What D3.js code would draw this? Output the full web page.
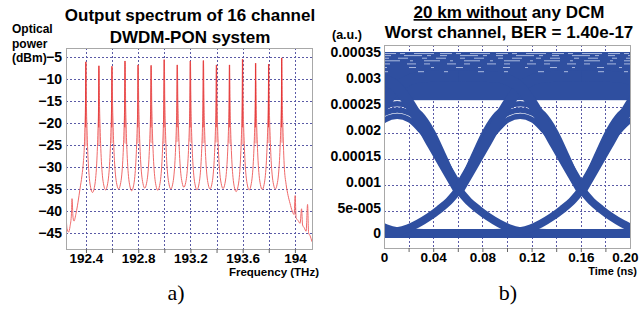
<!DOCTYPE html>
<html>
<head>
<meta charset="utf-8">
<script src="https://cdn.jsdelivr.net/npm/d3@7"></script>
<style>
  body { margin: 0; background: #fff; }
  svg text { font-family: "Liberation Sans", Arial, sans-serif; font-weight: bold; fill: #000; }
</style>
</head>
<body>
<script>
// ---------- (a) spectrum data ----------
const channelTHz = [192.4, 192.5, 192.6, 192.7, 192.8, 192.9, 193.0, 193.1,
                    193.2, 193.3, 193.4, 193.5, 193.6, 193.7, 193.8, 193.9];
const peakDBm = [-6.1, -7.0, -7.1, -5.9, -6.8, -6.9, -5.6, -6.8,
                 -5.9, -5.8, -6.8, -6.8, -5.5, -6.4, -6.6, -5.2];
// valley between channel i and i+1
const valleyDBm = [-35.8, -35.2, -35.0, -35.4, -34.8, -35.3, -35.0, -34.6,
                   -35.2, -35.0, -34.9, -35.6, -35.2, -35.1, -35.0];
// peak side shape: distance from the carrier (THz) and height above the valley (dB)
const profileDist = [0.004, 0.008, 0.012, 0.018, 0.026, 0.036];
const profileRise = [19, 14, 10.5, 6.5, 3.2, 1.1];
const leftTailTHz = [192.247, 192.255, 192.266, 192.278, 192.289, 192.293, 192.301, 192.308,
                     192.324, 192.339, 192.354, 192.369, 192.381, 192.388, 192.392, 192.396];
const leftTailDBm = [-40.5, -44.0, -44.8, -43.5, -40.5, -37.2, -41.5, -42.3,
                     -40.5, -38.0, -35.0, -32.0, -28.5, -25.0, -21.0, -16.0];
const rightTailTHz = [193.904, 193.908, 193.912, 193.918, 193.933, 193.948, 193.963, 193.979, 193.994,
                      194.002, 194.009, 194.025, 194.040, 194.051, 194.059, 194.071, 194.086,
                      194.097, 194.105, 194.116, 194.131];
const rightTailDBm = [-16, -21, -25, -29.5, -34, -36.5, -38.3, -40, -40.8,
                      -36.5, -41.5, -42.2, -42.8, -39.5, -43.2, -43.8, -44.6,
                      -38.5, -45, -45.6, -47];
const freqGrid = [192.4, 192.6, 192.8, 193.0, 193.2, 193.4, 193.6, 193.8, 194.0];
const freqTicks = [192.4, 192.8, 193.2, 193.6, 194.0];
const freqTickLabels = ["192.4", "192.8", "193.2", "193.6", "194"];
const powerTicks = [-5, -10, -15, -20, -25, -30, -35, -40, -45];

// ---------- (b) eye diagram data ----------
const crossingNs = [-0.0393, 0.0607, 0.1607, 0.2607];
// branch above the crossing: time from crossing (ns) -> amplitude
const upperTau = [0, 0.021, 0.042, 0.05, 0.058, 0.07, 0.1];
const upperV   = [0.00009, 0.0001765, 0.000263, 0.000288, 0.0003, 0.000308, 0.00031];
// branch below the crossing
const lowerTau = [0, 0.008, 0.016, 0.024, 0.033, 0.041, 0.05, 0.065, 0.1];
const lowerV   = [0.00009, 0.000068, 0.000052, 0.000038, 0.000025, 0.000016, 0.00001, 0.000007, 0.000006];
// isolated "1" humps, time from hump centre
const humpTau  = [-0.05, -0.038, -0.028, -0.019, -0.01, 0, 0.01, 0.019, 0.028, 0.038, 0.05];
const humpLowV = [0.00009, 0.000145, 0.00018, 0.000205, 0.000225, 0.000232, 0.000225, 0.000205, 0.00018, 0.000145, 0.00009];
const humpMidV = [0.00009, 0.00015, 0.000192, 0.00022, 0.000238, 0.000244, 0.000238, 0.00022, 0.000192, 0.00015, 0.00009];
const humpHighV = [0.00009, 0.000155, 0.000205, 0.000236, 0.000251, 0.000256, 0.000251, 0.000236, 0.000205, 0.000155, 0.00009];
const oneBand = [0.000263, 0.000356];
const zeroLevel = 0.000006;
const streakV = [0.000353, 0.000349, 0.000344, 0.000339, 0.000333, 0.000326, 0.000318];
const timeGrid = [0.02, 0.04, 0.06, 0.08, 0.10, 0.12, 0.14, 0.16, 0.18];
const timeTicks = [0, 0.04, 0.08, 0.12, 0.16, 0.20];
const timeTickLabels = ["0", "0.04", "0.08", "0.12", "0.16", "0.20"];
const ampTicks = [0, 0.00005, 0.0001, 0.00015, 0.0002, 0.00025, 0.0003, 0.00035];
const ampTickLabels = ["0", "5e-005", "0.001", "0.00015", "0.002", "0.00025", "0.003", "0.00035"];

const svg = d3.select("body").append("svg").attr("width", 640).attr("height", 311);

const GRID = "#5a5aa6";

// ================= panel a =================
const A = { left: 66, right: 312, top: 48, bottom: 249 };
const xF = d3.scaleLinear().domain([192.247, 194.131]).range([A.left, A.right]);
const yP = d3.scaleLinear().domain([-48.64, -2.95]).range([A.bottom, A.top]);
const ga = svg.append("g");

ga.selectAll(".vg").data(freqGrid).join("line")
  .attr("x1", d => Math.round(xF(d)) + 0.5).attr("x2", d => Math.round(xF(d)) + 0.5)
  .attr("y1", A.top).attr("y2", A.bottom)
  .attr("stroke", GRID).attr("stroke-dasharray", "2,2").attr("shape-rendering", "crispEdges");
ga.selectAll(".hg").data(powerTicks).join("line")
  .attr("x1", A.left).attr("x2", A.right)
  .attr("y1", d => Math.round(yP(d)) + 0.5).attr("y2", d => Math.round(yP(d)) + 0.5)
  .attr("stroke", GRID).attr("stroke-dasharray", "2,2").attr("shape-rendering", "crispEdges");

// spectrum points
const specPts = leftTailTHz.map((f, i) => [f, leftTailDBm[i]]);
channelTHz.forEach((f, i) => {
  if (i > 0) {
    for (let j = profileDist.length - 1; j >= 0; j--)
      specPts.push([f - profileDist[j], valleyDBm[i - 1] + profileRise[j]]);
  }
  specPts.push([f, peakDBm[i]]);
  if (i < channelTHz.length - 1) {
    profileDist.forEach((d, j) => specPts.push([f + d, valleyDBm[i] + profileRise[j]]));
    specPts.push([(f + channelTHz[i + 1]) / 2, valleyDBm[i]]);
  }
});
rightTailTHz.forEach((f, i) => specPts.push([f, rightTailDBm[i]]));

svg.append("clipPath").attr("id", "clipA").append("rect")
  .attr("x", A.left).attr("y", A.top).attr("width", A.right - A.left).attr("height", A.bottom - A.top);
const plotA = ga.append("g").attr("clip-path", "url(#clipA)");

// light body of each carrier
plotA.selectAll(".pk").data(channelTHz).join("path")
  .attr("d", (f, i) => {
    const vl = valleyDBm[Math.max(i - 1, 0)], vr = valleyDBm[Math.min(i, valleyDBm.length - 1)];
    return d3.line()([[xF(f - profileDist[2]), yP(vl + profileRise[2])], [xF(f), yP(peakDBm[i])],
                      [xF(f + profileDist[2]), yP(vr + profileRise[2])]]) + "Z";
  })
  .attr("fill", "#f9c0c0");

plotA.append("path").datum(specPts)
  .attr("d", d3.line().x(d => xF(d[0])).y(d => yP(d[1])).curve(d3.curveMonotoneX))
  .attr("fill", "none").attr("stroke", "#f06a6a").attr("stroke-width", 1);

plotA.selectAll(".sp").data(channelTHz).join("line")
  .attr("x1", d => xF(d) - 0.3).attr("x2", d => xF(d) - 0.3)
  .attr("y1", (d, i) => yP(peakDBm[i])).attr("y2", yP(-21))
  .attr("stroke", "#e02424").attr("stroke-width", 0.9).attr("stroke-opacity", 0.85);

ga.append("rect").attr("x", A.left + 0.5).attr("y", A.top + 0.5)
  .attr("width", A.right - A.left).attr("height", A.bottom - A.top)
  .attr("fill", "none").attr("stroke", "#a8a8a8");

// axes
ga.append("g").attr("transform", `translate(0,${A.bottom})`)
  .call(d3.axisBottom(xF).tickValues(freqGrid).tickSize(4).tickFormat(""))
  .call(g => g.select(".domain").remove())
  .selectAll("line").attr("stroke", "#666");
ga.append("g").attr("transform", `translate(0,${A.bottom})`)
  .call(d3.axisBottom(xF).tickValues(freqTicks).tickSize(0).tickPadding(4)
        .tickFormat((d, i) => freqTickLabels[i]))
  .call(g => g.select(".domain").remove())
  .selectAll("text").attr("font-size", 13.5).attr("font-family", null);
ga.append("g").attr("transform", `translate(${A.left - 4},0)`)
  .call(d3.axisLeft(yP).tickValues(powerTicks).tickSize(0).tickPadding(0))
  .call(g => g.select(".domain").remove())
  .selectAll("text").attr("font-size", 14).attr("font-family", null);

ga.append("text").attr("x", 190).attr("y", 21).attr("text-anchor", "middle")
  .attr("font-size", 17).text("Output spectrum of 16 channel");
ga.append("text").attr("x", 190).attr("y", 43).attr("text-anchor", "middle")
  .attr("font-size", 17).text("DWDM-PON system");
["Optical", "power", "(dBm)"].forEach((t, i) =>
  ga.append("text").attr("x", 12).attr("y", 33 + i * 14.5).attr("font-size", 12).text(t));
ga.append("text").attr("x", 319).attr("y", 276).attr("text-anchor", "end")
  .attr("font-size", 11.5).text("Frequency (THz)");
ga.append("text").attr("x", 176).attr("y", 300).attr("text-anchor", "middle")
  .attr("font-size", 22).style("font-family", '"Liberation Serif", "Times New Roman", serif')
  .style("font-weight", "normal").text("a)");

// ================= panel b =================
const B = { left: 384, right: 630, top: 45, bottom: 248 };
const xT = d3.scaleLinear().domain([0, 0.2]).range([B.left, B.right]);
const yA = d3.scaleLinear().domain([-0.0000222, 0.0003695]).range([B.bottom, B.top]);
const gb = svg.append("g");

gb.selectAll(".vg").data(timeGrid).join("line")
  .attr("x1", d => Math.round(xT(d)) + 0.5).attr("x2", d => Math.round(xT(d)) + 0.5)
  .attr("y1", B.top).attr("y2", B.bottom)
  .attr("stroke", GRID).attr("stroke-dasharray", "2,2").attr("shape-rendering", "crispEdges");
gb.selectAll(".hg").data(ampTicks.slice(1)).join("line")
  .attr("x1", B.left).attr("x2", B.right)
  .attr("y1", d => Math.round(yA(d)) + 0.5).attr("y2", d => Math.round(yA(d)) + 0.5)
  .attr("stroke", GRID).attr("stroke-dasharray", "2,2").attr("shape-rendering", "crispEdges");

svg.append("clipPath").attr("id", "clipB").append("rect")
  .attr("x", B.left).attr("y", B.top).attr("width", B.right - B.left).attr("height", B.bottom - B.top);
const plotB = gb.append("g").attr("clip-path", "url(#clipB)");
const EYE = "#2f4fa0";
const eyeLine = d3.line().x(d => xT(d[0])).y(d => yA(d[1])).curve(d3.curveMonotoneX);

// zero rail
plotB.append("line").attr("x1", B.left).attr("x2", B.right)
  .attr("y1", yA(zeroLevel)).attr("y2", yA(zeroLevel))
  .attr("stroke", EYE).attr("stroke-width", 9);
// one band
plotB.append("rect").attr("x", B.left).attr("width", B.right - B.left)
  .attr("y", yA(oneBand[1])).attr("height", yA(oneBand[0]) - yA(oneBand[1]))
  .attr("fill", EYE);

crossingNs.forEach(c => {
  const lowL = lowerTau.map((t, j) => [c - t, lowerV[j]]).reverse();
  const lowR = lowerTau.map((t, j) => [c + t, lowerV[j]]);
  const upL = upperTau.map((t, j) => [c - t, upperV[j]]).reverse();
  const upR = upperTau.map((t, j) => [c + t, upperV[j]]);
  [lowL, lowR].forEach(p => plotB.append("path").attr("d", eyeLine(p))
    .attr("fill", "none").attr("stroke", EYE).attr("stroke-width", 8));
  [humpLowV, humpMidV, humpHighV].forEach(hv => plotB.append("path")
    .attr("d", eyeLine(humpTau.map((t, j) => [c + 0.05 + t, hv[j]])))
    .attr("fill", "none").attr("stroke", EYE).attr("stroke-width", 5.5));
  [upL, upR].forEach(p => plotB.append("path").attr("d", eyeLine(p))
    .attr("fill", "none").attr("stroke", EYE).attr("stroke-width", 11));
});

// light streaks in the "1" level
const dashes = ["12,4,5,9,20,6", "7,13,18,5,4,9", "5,9,10,14", "16,10,3,11",
                "6,17,9,8", "3,22,7,15", "4,30,6,20"];
plotB.selectAll(".st").data(streakV).join("line")
  .attr("x1", B.left).attr("x2", B.right)
  .attr("y1", d => yA(d)).attr("y2", d => yA(d))
  .attr("stroke", "#cbd5ef").attr("stroke-width", 0.8)
  .attr("stroke-dasharray", (d, i) => dashes[i]);

gb.append("rect").attr("x", B.left + 0.5).attr("y", B.top + 0.5)
  .attr("width", B.right - B.left).attr("height", B.bottom - B.top)
  .attr("fill", "none").attr("stroke", "#a8a8a8");

gb.append("g").attr("transform", `translate(0,${B.bottom})`)
  .call(d3.axisBottom(xT).tickValues(timeGrid).tickSize(4).tickFormat(""))
  .call(g => g.select(".domain").remove())
  .selectAll("line").attr("stroke", "#666");
gb.append("g").attr("transform", `translate(0,${B.bottom})`)
  .call(d3.axisBottom(xT).tickValues(timeTicks).tickSize(0).tickPadding(4)
        .tickFormat((d, i) => timeTickLabels[i]))
  .call(g => g.select(".domain").remove())
  .selectAll("text").attr("font-size", 13.5).attr("font-family", null)
  .filter((d, i) => i === timeTicks.length - 1).attr("text-anchor", "end").attr("x", 8);
gb.append("g").attr("transform", `translate(${B.left - 3},0)`)
  .call(d3.axisLeft(yA).tickValues(ampTicks).tickSize(0).tickPadding(0)
        .tickFormat((d, i) => ampTickLabels[i]))
  .call(g => g.select(".domain").remove())
  .selectAll("text").attr("font-size", 14).attr("font-family", null).attr("y", -3);

const t1 = gb.append("text").attr("x", 509).attr("y", 18).attr("text-anchor", "middle").attr("font-size", 17);
t1.append("tspan").style("text-decoration", "underline").text("20 km without");
t1.append("tspan").text(" any DCM");
gb.append("text").attr("x", 509).attr("y", 38).attr("text-anchor", "middle")
  .attr("font-size", 17).text("Worst channel, BER = 1.40e-17");
gb.append("text").attr("x", 332).attr("y", 39).attr("font-size", 12.5).text("(a.u.)");
gb.append("text").attr("x", 637).attr("y", 275).attr("text-anchor", "end")
  .attr("font-size", 11).text("Time (ns)");
gb.append("text").attr("x", 508).attr("y", 300).attr("text-anchor", "middle")
  .attr("font-size", 22).style("font-family", '"Liberation Serif", "Times New Roman", serif')
  .style("font-weight", "normal").text("b)");
</script>
</body>
</html>
